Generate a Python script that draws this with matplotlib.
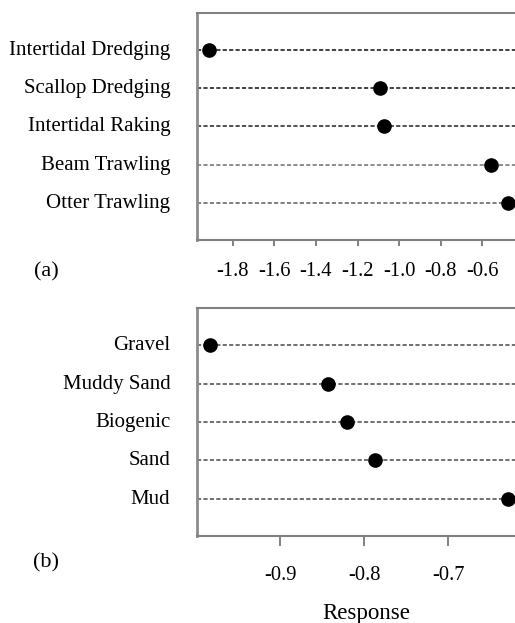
import matplotlib.pyplot as plt
import matplotlib.transforms as mtransforms
import numpy as np

# Panel (a): fishing gear
gear = ["Intertidal Dredging", "Scallop Dredging", "Intertidal Raking",
        "Beam Trawling", "Otter Trawling"]
gear_response = [-1.914, -1.091, -1.072, -0.560, -0.478]
gear_ticks = [-1.8, -1.6, -1.4, -1.2, -1.0, -0.8, -0.6]

# Panel (b): habitat
habitat = ["Gravel", "Muddy Sand", "Biogenic", "Sand", "Mud"]
habitat_response = [-0.983, -0.843, -0.820, -0.787, -0.629]
habitat_ticks = [-0.9, -0.8, -0.7]

plt.rcParams['font.family'] = ['Liberation Serif', 'DejaVu Serif']

fig = plt.figure(figsize=(5.15, 6.23), dpi=100)
ax_a = fig.add_axes([0.382, 0.615, 0.618, 0.364])
ax_b = fig.add_axes([0.382, 0.140, 0.618, 0.365])

line_cols_a = ["#2a2a2a", "#2a2a2a", "#3a3a3a", "#808080", "#707070"]
line_cols_b = ["#5e5e5e"] * 5


def dot_panel(ax, labels, values, ticks, xlim, line_cols, tick_len, tick_pad):
    y = np.arange(len(labels))
    for yi, col in zip(y, line_cols):
        ax.axhline(yi, color=col, lw=1.25, ls=(0, (2.4, 1.3)), zorder=1)
    ax.plot(values, y, 'o', color='black', ms=9.5, zorder=3, clip_on=False)
    ax.set_xlim(*xlim)
    ax.set_ylim(len(labels) - 1 + 0.96, -0.96)
    ax.set_yticks(y)
    ax.set_yticklabels(labels, fontsize=15)
    ax.set_xticks(ticks)
    ax.set_xticklabels([f"{t:.1f}" for t in ticks], fontsize=14.8)
    ax.tick_params(axis='y', length=0, pad=19)
    ax.tick_params(axis='x', length=tick_len, width=1.4, color='#808080', pad=tick_pad)
    # labels sit a little above their dashed line
    up = mtransforms.ScaledTranslation(0, 2 / 100, fig.dpi_scale_trans)
    for lbl in ax.get_yticklabels():
        lbl.set_transform(lbl.get_transform() + up)
    ax.spines['right'].set_visible(False)
    for s in ['top', 'bottom']:
        ax.spines[s].set_color('#808080')
        ax.spines[s].set_linewidth(1.5)
    ax.spines['left'].set_color('#8c8c8c')
    ax.spines['left'].set_linewidth(2.0)


dot_panel(ax_a, gear, gear_response, gear_ticks, (-1.973, -0.443), line_cols_a, 4.5, 11.5)
dot_panel(ax_b, habitat, habitat_response, habitat_ticks, (-0.999, -0.621), line_cols_b, 7.5, 14)

fig.text(46 / 515, 1 - 271.7 / 623, "(a)", fontsize=16, ha='center', va='center')
fig.text(46 / 515, 1 - 563.3 / 623, "(b)", fontsize=16, ha='center', va='center')
fig.text(366.7 / 515, 1 - 614 / 623, "Response", fontsize=16.5, ha='center', va='center')

fig.savefig("out.png", dpi=100)
